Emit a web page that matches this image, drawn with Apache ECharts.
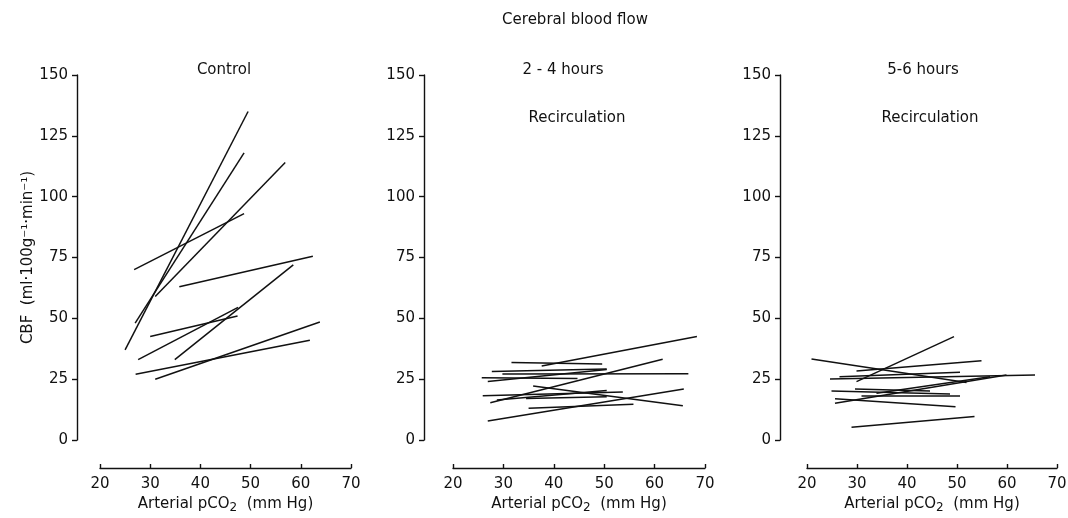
<!DOCTYPE html>
<html>
<head>
<meta charset="utf-8">
<script src="https://cdn.jsdelivr.net/npm/echarts@6/dist/echarts.min.js"></script>
<style>
html,body{margin:0;padding:0;background:#fff;}
#c{width:1068px;height:518px;}
</style>
</head>
<body>
<div id="c"></div>
<script>
// Each segment: [pCO2 start, CBF start, pCO2 end, CBF end]
const controlLines = [
  [25.0, 37, 49.5, 135],
  [27.0, 48, 48.7, 118],
  [31.0, 59, 56.9, 114],
  [26.8, 70, 48.7, 93],
  [35.8, 63, 62.4, 75.5],
  [34.9, 33, 58.5, 72],
  [27.6, 33, 47.5, 54.5],
  [30.0, 42.5, 47.4, 51],
  [27.1, 27, 61.8, 41],
  [31.0, 25, 63.8, 48.5]
];
const recirc24Lines = [
  [37.6, 30.4, 68.4, 42.5],
  [31.6, 31.9, 49.6, 31.2],
  [27.7, 28.1, 50.5, 29.2],
  [29.8, 27.1, 66.7, 27.2],
  [25.7, 25.6, 44.7, 25.3],
  [26.9, 24.0, 50.5, 29.0],
  [27.4, 15.3, 61.6, 33.2],
  [35.9, 22.2, 65.6, 14.1],
  [25.9, 18.2, 53.7, 19.7],
  [28.7, 16.4, 50.5, 20.3],
  [34.5, 17.1, 50.5, 17.8],
  [35.0, 13.0, 55.8, 14.7],
  [26.9, 7.8, 65.8, 21.0]
];
const recirc56Lines = [
  [20.9, 33.3, 51.9, 23.6],
  [29.9, 24.0, 49.4, 42.5],
  [29.9, 28.4, 54.9, 32.6],
  [26.5, 26.0, 50.6, 27.8],
  [24.6, 25.1, 65.6, 26.7],
  [24.9, 20.1, 48.6, 18.9],
  [29.6, 21.0, 44.6, 20.1],
  [25.6, 15.1, 59.9, 26.7],
  [30.9, 18.1, 50.6, 18.1],
  [25.6, 17.0, 49.7, 13.7],
  [28.9, 5.2, 53.5, 9.7],
  [33.9, 19.2, 56.6, 26.0]
];
const yTicks = [0, 25, 50, 75, 100, 125, 150];
const xTicks = [20, 30, 40, 50, 60, 70];
const panelTitles = [
  ['Control'],
  ['2 - 4 hours', 'Recirculation'],
  ['5-6 hours', 'Recirculation']
];
const mainTitle = 'Cerebral blood flow';

const FONT = 'DejaVu Sans';
const panels = [
  {lines: controlLines, left: 100, width: 251, yOff: 23, tx: [224]},
  {lines: recirc24Lines, left: 453, width: 252, yOff: 29, tx: [563, 577]},
  {lines: recirc56Lines, left: 807, width: 250, yOff: 27, tx: [923, 930]}
];

const grid = [], xAxis = [], yAxis = [], series = [], graphic = [];
panels.forEach((p, i) => {
  grid.push({left: p.left, width: p.width, top: 75, height: 365, containLabel: false, outerBoundsMode: 'none'});
  xAxis.push({
    gridIndex: i, type: 'value', min: xTicks[0], max: xTicks[xTicks.length-1], interval: 10,
    offset: 28,
    axisLine: {show: true, onZero: false, lineStyle: {color: '#111', width: 1.4}},
    axisTick: {show: true, inside: true, length: 4, lineStyle: {color: '#111', width: 1.4}},
    splitLine: {show: false},
    axisLabel: {color: '#111', fontSize: 15, fontFamily: FONT, margin: 9},
    name: 'Arterial pCO{s|2}  (mm Hg)',
    nameLocation: 'middle', nameGap: 27,
    nameTextStyle: {color: '#111', fontSize: 15, fontFamily: FONT,
      rich: {s: {fontSize: 12, fontFamily: FONT, color: '#111', verticalAlign: 'bottom', padding: [6,0,0,0]}}}
  });
  yAxis.push({
    gridIndex: i, type: 'value', min: 0, max: 150, interval: 25,
    offset: p.yOff,
    axisLine: {show: true, onZero: false, lineStyle: {color: '#111', width: 1.4}},
    axisTick: {show: true, inside: false, length: 5, lineStyle: {color: '#111', width: 1.4}},
    splitLine: {show: false},
    axisLabel: {color: '#111', fontSize: 15, fontFamily: FONT, margin: 9},
    name: i === 0 ? 'CBF  (ml·100g⁻¹·min⁻¹)' : '',
    nameLocation: 'middle', nameRotate: 90, nameGap: 38,
    nameTextStyle: {color: '#111', fontSize: 15, fontFamily: FONT}
  });
  p.lines.forEach(s => {
    series.push({
      type: 'line', xAxisIndex: i, yAxisIndex: i,
      data: [[s[0], s[1]], [s[2], s[3]]],
      showSymbol: false, symbol: 'none', silent: true, animation: false,
      lineStyle: {color: '#111', width: 1.5}
    });
  });
  panelTitles[i].forEach((t, k) => {
    graphic.push({type: 'text', x: p.tx[k], y: k === 0 ? 70 : 118,
      style: {text: t, fill: '#111', font: '15px "' + FONT + '"', textAlign: 'center', textVerticalAlign: 'middle'}});
  });
});
graphic.push({type: 'text', x: 575, y: 20,
  style: {text: mainTitle, fill: '#111', font: '15px "' + FONT + '"', textAlign: 'center', textVerticalAlign: 'middle'}});

const chart = echarts.init(document.getElementById('c'), null, {renderer: 'canvas'});
chart.setOption({
  backgroundColor: '#fff',
  animation: false,
  grid, xAxis, yAxis, series, graphic
});
</script>
</body>
</html>
